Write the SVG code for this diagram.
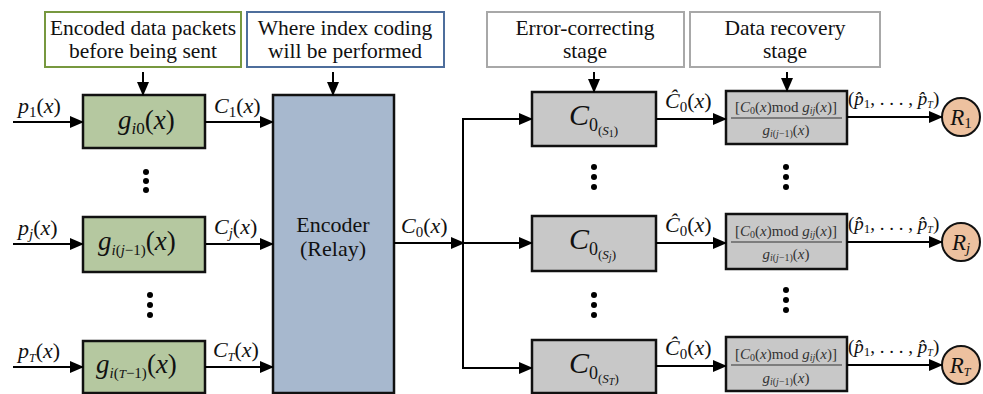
<svg xmlns="http://www.w3.org/2000/svg" width="983" height="394" viewBox="0 0 983 394">
<defs>
<marker id="ah" markerUnits="userSpaceOnUse" markerWidth="14" markerHeight="12" refX="13" refY="6" orient="auto">
<path d="M0,0 L14,6 L0,12 Z" fill="#000"/>
</marker>
</defs>
<rect width="983" height="394" fill="#fff"/>

<g id="note-encoded" font-family="Liberation Serif" font-size="21.5" text-anchor="middle" fill="#111">
<rect x="45" y="12" width="196" height="55" fill="#fff" stroke="#77983F" stroke-width="2"/>
<text font-family="Liberation Serif" x="143" y="35">Encoded data packets</text>
<text font-family="Liberation Serif" x="143" y="58">before being sent</text>
</g>
<g id="note-index" font-family="Liberation Serif" font-size="21.5" text-anchor="middle" fill="#111">
<rect x="247" y="12" width="197" height="55" fill="#fff" stroke="#4E6E9C" stroke-width="2"/>
<text font-family="Liberation Serif" x="345" y="35">Where index coding</text>
<text font-family="Liberation Serif" x="345" y="58">will be performed</text>
</g>
<g id="note-error" font-family="Liberation Serif" font-size="21.5" text-anchor="middle" fill="#111">
<rect x="487" y="12" width="197" height="55" fill="#fff" stroke="#A8A8A8" stroke-width="2"/>
<text font-family="Liberation Serif" x="585" y="35">Error-correcting</text>
<text font-family="Liberation Serif" x="585" y="58">stage</text>
</g>
<g id="note-recovery" font-family="Liberation Serif" font-size="21.5" text-anchor="middle" fill="#111">
<rect x="690" y="12" width="190" height="55" fill="#fff" stroke="#A8A8A8" stroke-width="2"/>
<text font-family="Liberation Serif" x="785" y="35">Data recovery</text>
<text font-family="Liberation Serif" x="785" y="58">stage</text>
</g>

<g id="g1" font-family="Liberation Serif" fill="#111">
<rect x="83" y="95" width="122" height="53" fill="#B5C8A0" stroke="#111" stroke-width="2.5"/>
<text font-family="Liberation Serif" x="118" y="129" font-size="27"><tspan font-style="italic">g</tspan><tspan font-size="17" dy="5" font-style="italic">i</tspan><tspan font-size="17">0</tspan><tspan dy="-5">(</tspan><tspan font-style="italic">x</tspan>)</text>
</g>
<g id="gj" font-family="Liberation Serif" fill="#111">
<rect x="83" y="217" width="122" height="55" fill="#B5C8A0" stroke="#111" stroke-width="2.5"/>
<text font-family="Liberation Serif" x="98" y="250" font-size="27"><tspan font-style="italic">g</tspan><tspan font-size="15" dy="5" font-style="italic">i</tspan><tspan font-size="15">(</tspan><tspan font-size="15" font-style="italic">j</tspan><tspan font-size="15">−1)</tspan><tspan dy="-5">(</tspan><tspan font-style="italic">x</tspan>)</text>
</g>
<g id="gT" font-family="Liberation Serif" fill="#111">
<rect x="83" y="341" width="122" height="52" fill="#B5C8A0" stroke="#111" stroke-width="2.5"/>
<text font-family="Liberation Serif" x="96" y="373" font-size="27"><tspan font-style="italic">g</tspan><tspan font-size="15" dy="5" font-style="italic">i</tspan><tspan font-size="15">(</tspan><tspan font-size="13" font-style="italic">T</tspan><tspan font-size="15">−1)</tspan><tspan dy="-5">(</tspan><tspan font-style="italic">x</tspan>)</text>
</g>
<g id="encoder" font-family="Liberation Serif" fill="#111">
<rect x="273" y="95" width="121" height="298" fill="#A7B8CE" stroke="#111" stroke-width="2.5"/>
<text font-family="Liberation Serif" x="333" y="232" font-size="22" text-anchor="middle">Encoder</text>
<text font-family="Liberation Serif" x="333" y="256" font-size="22" text-anchor="middle">(Relay)</text>
</g>

<g id="cs1" font-family="Liberation Serif" fill="#111">
<rect x="532" y="92" width="124" height="54" fill="#C8C8C8" stroke="#111" stroke-width="2.5"/>
<text font-family="Liberation Serif" x="569" y="125" font-size="30"><tspan font-style="italic">C</tspan><tspan font-size="18" dy="6">0</tspan><tspan font-size="13" dy="4">(</tspan><tspan font-size="13" font-style="italic">S</tspan><tspan font-size="10" dy="2">1</tspan><tspan font-size="13" dy="-2">)</tspan></text>
</g>
<g id="csj" font-family="Liberation Serif" fill="#111">
<rect x="532" y="216" width="124" height="55" fill="#C8C8C8" stroke="#111" stroke-width="2.5"/>
<text font-family="Liberation Serif" x="569" y="249" font-size="30"><tspan font-style="italic">C</tspan><tspan font-size="18" dy="6">0</tspan><tspan font-size="13" dy="4">(</tspan><tspan font-size="13" font-style="italic">S</tspan><tspan font-size="10" dy="2" font-style="italic">j</tspan><tspan font-size="13" dy="-2">)</tspan></text>
</g>
<g id="csT" font-family="Liberation Serif" fill="#111">
<rect x="532" y="340" width="124" height="53" fill="#C8C8C8" stroke="#111" stroke-width="2.5"/>
<text font-family="Liberation Serif" x="569" y="373" font-size="30"><tspan font-style="italic">C</tspan><tspan font-size="18" dy="6">0</tspan><tspan font-size="13" dy="4">(</tspan><tspan font-size="13" font-style="italic">S</tspan><tspan font-size="10" dy="2" font-style="italic">T</tspan><tspan font-size="13" dy="-2">)</tspan></text>
</g>

<g id="dr1" font-family="Liberation Serif" fill="#333" font-size="15" text-anchor="middle">
<rect x="726" y="91" width="121" height="53" fill="#C8C8C8" stroke="#111" stroke-width="2.5"/>
<text font-family="Liberation Serif" x="786" y="112">[<tspan font-style="italic">C</tspan><tspan font-size="10" dy="2">0</tspan><tspan dy="-2">(</tspan><tspan font-style="italic">x</tspan>)mod <tspan font-style="italic">g</tspan><tspan font-size="10" dy="2" font-style="italic">ij</tspan><tspan dy="-2">(</tspan><tspan font-style="italic">x</tspan>)]</text>
<line x1="731" y1="118" x2="842" y2="118" stroke="#333" stroke-width="1"/>
<text font-family="Liberation Serif" x="786" y="135"><tspan font-style="italic">g</tspan><tspan font-size="10" dy="2" font-style="italic">i</tspan><tspan font-size="10">(</tspan><tspan font-size="10" font-style="italic">j</tspan><tspan font-size="10">−1)</tspan><tspan dy="-2">(</tspan><tspan font-style="italic">x</tspan>)</text>
</g>
<g id="drj" font-family="Liberation Serif" fill="#333" font-size="15" text-anchor="middle">
<rect x="726" y="214" width="121" height="55" fill="#C8C8C8" stroke="#111" stroke-width="2.5"/>
<text font-family="Liberation Serif" x="786" y="236">[<tspan font-style="italic">C</tspan><tspan font-size="10" dy="2">0</tspan><tspan dy="-2">(</tspan><tspan font-style="italic">x</tspan>)mod <tspan font-style="italic">g</tspan><tspan font-size="10" dy="2" font-style="italic">ij</tspan><tspan dy="-2">(</tspan><tspan font-style="italic">x</tspan>)]</text>
<line x1="731" y1="242" x2="842" y2="242" stroke="#333" stroke-width="1"/>
<text font-family="Liberation Serif" x="786" y="259"><tspan font-style="italic">g</tspan><tspan font-size="10" dy="2" font-style="italic">i</tspan><tspan font-size="10">(</tspan><tspan font-size="10" font-style="italic">j</tspan><tspan font-size="10">−1)</tspan><tspan dy="-2">(</tspan><tspan font-style="italic">x</tspan>)</text>
</g>
<g id="drT" font-family="Liberation Serif" fill="#333" font-size="15" text-anchor="middle">
<rect x="726" y="337" width="121" height="54" fill="#C8C8C8" stroke="#111" stroke-width="2.5"/>
<text font-family="Liberation Serif" x="786" y="359">[<tspan font-style="italic">C</tspan><tspan font-size="10" dy="2">0</tspan><tspan dy="-2">(</tspan><tspan font-style="italic">x</tspan>)mod <tspan font-style="italic">g</tspan><tspan font-size="10" dy="2" font-style="italic">ij</tspan><tspan dy="-2">(</tspan><tspan font-style="italic">x</tspan>)]</text>
<line x1="731" y1="365" x2="842" y2="365" stroke="#333" stroke-width="1"/>
<text font-family="Liberation Serif" x="786" y="383"><tspan font-style="italic">g</tspan><tspan font-size="10" dy="2" font-style="italic">i</tspan><tspan font-size="10">(</tspan><tspan font-size="10" font-style="italic">j</tspan><tspan font-size="10">−1)</tspan><tspan dy="-2">(</tspan><tspan font-style="italic">x</tspan>)</text>
</g>

<g id="R1" font-family="Liberation Serif" fill="#111">
<circle cx="961" cy="117" r="19" fill="#EDC19F" stroke="#111" stroke-width="2"/>
<text font-family="Liberation Serif" x="961" y="125" font-size="23" text-anchor="middle"><tspan font-style="italic">R</tspan><tspan font-size="15" dy="3">1</tspan></text>
</g>
<g id="Rj" font-family="Liberation Serif" fill="#111">
<circle cx="961" cy="242" r="19" fill="#EDC19F" stroke="#111" stroke-width="2"/>
<text font-family="Liberation Serif" x="961" y="250" font-size="23" text-anchor="middle"><tspan font-style="italic">R</tspan><tspan font-size="15" dy="3" font-style="italic">j</tspan></text>
</g>
<g id="RT" font-family="Liberation Serif" fill="#111">
<circle cx="961" cy="365" r="19" fill="#EDC19F" stroke="#111" stroke-width="2"/>
<text font-family="Liberation Serif" x="960" y="373" font-size="23" text-anchor="middle"><tspan font-style="italic">R</tspan><tspan font-size="12" dy="3" font-style="italic">T</tspan></text>
</g>

<g id="connectors" fill="none" stroke="#000" stroke-width="2">
<line marker-end="url(#ah)" x1="143" y1="72" x2="143" y2="95"/>
<line marker-end="url(#ah)" x1="333" y1="72" x2="333" y2="95"/>
<line marker-end="url(#ah)" x1="594" y1="72" x2="594" y2="92"/>
<line marker-end="url(#ah)" x1="787" y1="72" x2="787" y2="91"/>
<line marker-end="url(#ah)" x1="13" y1="122" x2="83" y2="122"/>
<line marker-end="url(#ah)" x1="13" y1="244" x2="83" y2="244"/>
<line marker-end="url(#ah)" x1="13" y1="367" x2="83" y2="367"/>
<line marker-end="url(#ah)" x1="205" y1="122" x2="273" y2="122"/>
<line marker-end="url(#ah)" x1="206" y1="244" x2="273" y2="244"/>
<line marker-end="url(#ah)" x1="205" y1="367" x2="273" y2="367"/>
<line marker-end="url(#ah)" x1="394" y1="243" x2="464" y2="243"/>
<path d="M463,368 V119"/>
<line marker-end="url(#ah)" x1="462" y1="119" x2="532" y2="119"/>
<line marker-end="url(#ah)" x1="463" y1="243" x2="532" y2="243"/>
<line marker-end="url(#ah)" x1="462" y1="368" x2="532" y2="368"/>
<line marker-end="url(#ah)" x1="656" y1="119" x2="726" y2="119"/>
<line marker-end="url(#ah)" x1="656" y1="243" x2="726" y2="243"/>
<line marker-end="url(#ah)" x1="656" y1="366" x2="726" y2="366"/>
<line marker-end="url(#ah)" x1="847" y1="117" x2="942" y2="117"/>
<line marker-end="url(#ah)" x1="847" y1="242" x2="942" y2="242"/>
<line marker-end="url(#ah)" x1="847" y1="365" x2="942" y2="365"/>
</g>

<g id="labels" font-family="Liberation Serif" fill="#111" font-size="22">
<text font-family="Liberation Serif" x="18" y="113"><tspan font-style="italic">p</tspan><tspan font-size="15" dy="4">1</tspan><tspan dy="-4">(</tspan><tspan font-style="italic">x</tspan>)</text>
<text font-family="Liberation Serif" x="18" y="235"><tspan font-style="italic">p</tspan><tspan font-size="15" dy="4" font-style="italic">j</tspan><tspan dy="-4">(</tspan><tspan font-style="italic">x</tspan>)</text>
<text font-family="Liberation Serif" x="18" y="358"><tspan font-style="italic">p</tspan><tspan font-size="12" dy="4" font-style="italic">T</tspan><tspan dy="-4">(</tspan><tspan font-style="italic">x</tspan>)</text>
<text font-family="Liberation Serif" x="214" y="113"><tspan font-style="italic">C</tspan><tspan font-size="15" dy="4">1</tspan><tspan dy="-4">(</tspan><tspan font-style="italic">x</tspan>)</text>
<text font-family="Liberation Serif" x="214" y="234"><tspan font-style="italic">C</tspan><tspan font-size="15" dy="4" font-style="italic">j</tspan><tspan dy="-4">(</tspan><tspan font-style="italic">x</tspan>)</text>
<text font-family="Liberation Serif" x="213" y="357"><tspan font-style="italic">C</tspan><tspan font-size="12" dy="4" font-style="italic">T</tspan><tspan dy="-4">(</tspan><tspan font-style="italic">x</tspan>)</text>
<text font-family="Liberation Serif" x="401" y="233"><tspan font-style="italic">C</tspan><tspan font-size="15" dy="4">0</tspan><tspan dy="-4">(</tspan><tspan font-style="italic">x</tspan>)</text>
<text font-family="Liberation Serif" x="665" y="108"><tspan font-style="italic">Ĉ</tspan><tspan font-size="15" dy="4">0</tspan><tspan dy="-4">(</tspan><tspan font-style="italic">x</tspan>)</text>
<text font-family="Liberation Serif" x="665" y="232"><tspan font-style="italic">Ĉ</tspan><tspan font-size="15" dy="4">0</tspan><tspan dy="-4">(</tspan><tspan font-style="italic">x</tspan>)</text>
<text font-family="Liberation Serif" x="665" y="355"><tspan font-style="italic">Ĉ</tspan><tspan font-size="15" dy="4">0</tspan><tspan dy="-4">(</tspan><tspan font-style="italic">x</tspan>)</text>
<text font-family="Liberation Serif" x="848" y="105" font-size="19">(<tspan font-style="italic">p̂</tspan><tspan font-size="13" dy="3">1</tspan><tspan dy="-3">, . . . , </tspan><tspan font-style="italic">p̂</tspan><tspan font-size="10" dy="3" font-style="italic">T</tspan><tspan dy="-3">)</tspan></text>
<text font-family="Liberation Serif" x="848" y="230" font-size="19">(<tspan font-style="italic">p̂</tspan><tspan font-size="13" dy="3">1</tspan><tspan dy="-3">, . . . , </tspan><tspan font-style="italic">p̂</tspan><tspan font-size="10" dy="3" font-style="italic">T</tspan><tspan dy="-3">)</tspan></text>
<text font-family="Liberation Serif" x="848" y="353" font-size="19">(<tspan font-style="italic">p̂</tspan><tspan font-size="13" dy="3">1</tspan><tspan dy="-3">, . . . , </tspan><tspan font-style="italic">p̂</tspan><tspan font-size="10" dy="3" font-style="italic">T</tspan><tspan dy="-3">)</tspan></text>
</g>

<g id="ellipses" fill="#000">
<circle cx="146" cy="172" r="3"/><circle cx="146" cy="181" r="3"/><circle cx="146" cy="190" r="3"/>
<circle cx="150" cy="295" r="3"/><circle cx="150" cy="305" r="3"/><circle cx="150" cy="315" r="3"/>
<circle cx="594" cy="167" r="3"/><circle cx="594" cy="177" r="3"/><circle cx="594" cy="187" r="3"/>
<circle cx="786" cy="167" r="3"/><circle cx="786" cy="177" r="3"/><circle cx="786" cy="187" r="3"/>
<circle cx="594" cy="295" r="3"/><circle cx="594" cy="305" r="3"/><circle cx="594" cy="315" r="3"/>
<circle cx="786" cy="290" r="3"/><circle cx="786" cy="300" r="3"/><circle cx="786" cy="310" r="3"/>
</g>
</svg>
